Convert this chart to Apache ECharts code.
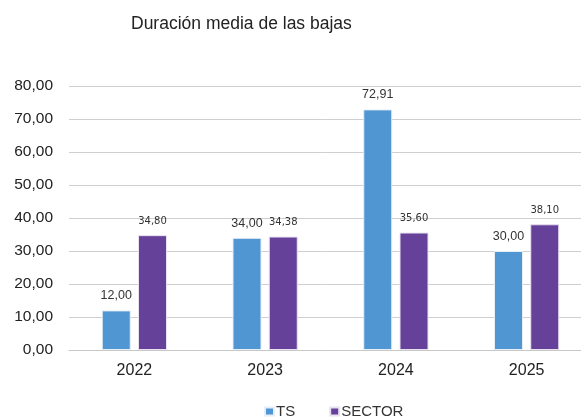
<!DOCTYPE html>
<html>
<head>
<meta charset="utf-8">
<script src="https://cdn.jsdelivr.net/npm/echarts@6/dist/echarts.min.js"></script>
<style>
  html, body { margin: 0; padding: 0; background: #fff; }
  #chart { width: 581px; height: 419px; }
</style>
</head>
<body>
<div id="chart"></div>
<script>
// datos
let years = ['2022', '2023', '2024', '2025'];
let ts = [12.00, 34.00, 72.91, 30.00];
let sector = [34.80, 34.38, 35.60, 38.10];

function fmt(v) {
    return v.toFixed(2).replace('.', ',');
}

let option = {
    backgroundColor: '#fff',
    textStyle: { fontFamily: '"Liberation Sans", Arial, sans-serif' },
    title: {
        text: 'Duración media de las bajas',
        left: 126,
        top: 10,
        textStyle: { fontSize: 17.5, fontWeight: 'normal', color: '#222' }
    },
    legend: {
        top: 399,
        left: 259,
        itemWidth: 9,
        itemHeight: 8,
        itemGap: 34,
        icon: 'rect',
        textStyle: { fontSize: 15, color: '#333', padding: [0, 0, 0, -3] },
        data: ['TS', 'SECTOR']
    },
    grid: {
        left: 69,
        right: -11,
        top: 86,
        bottom: 69,
        outerBoundsMode: 'none'
    },
    xAxis: {
        type: 'category',
        data: years,
        axisTick: { show: false },
        axisLine: { lineStyle: { color: '#c8c8c8' } },
        axisLabel: { fontSize: 16, color: '#222', margin: 13 }
    },
    yAxis: {
        type: 'value',
        min: 0,
        max: 80,
        interval: 10,
        axisLabel: {
            fontSize: 15.5,
            color: '#222',
            margin: 16,
            formatter: function (v) { return fmt(v); }
        },
        splitLine: { lineStyle: { color: '#cfcfcf' } }
    },
    series: [{
        name: 'TS',
        type: 'bar',
        data: ts,
        barWidth: 29,
        barGap: '25%',
        itemStyle: { color: '#5096d2', borderColor: '#e6eef8', borderWidth: 1 },
        label: {
            show: true,
            position: 'top',
            distance: 8,
            fontSize: 12.5,
            color: '#333',
            formatter: function (p) { return fmt(p.value); }
        }
    }, {
        name: 'SECTOR',
        type: 'bar',
        data: sector,
        barWidth: 29,
        itemStyle: { color: '#65419a', borderColor: '#e8e2f0', borderWidth: 1 },
        label: {
            show: true,
            position: 'top',
            distance: 9,
            fontSize: 10,
            fontFamily: '"DejaVu Sans", sans-serif',
            color: '#333',
            formatter: function (p) { return fmt(p.value); }
        }
    }]
};

let chartDom = document.getElementById('chart');
let myChart = echarts.init(chartDom);
myChart.setOption(option);
</script>
</body>
</html>
